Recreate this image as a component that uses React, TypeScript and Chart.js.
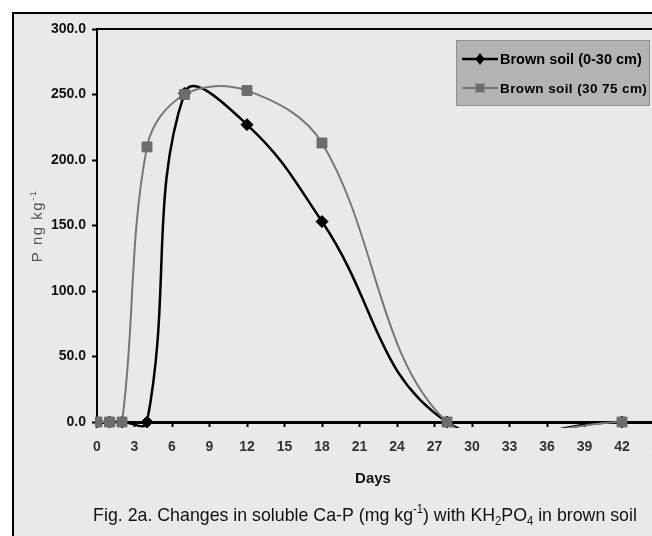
import React, { useEffect, useRef } from "react";
import { Chart, registerables } from "chart.js";

Chart.register(...registerables);

// ---- data ----
const days = [0, 1, 2, 4, 7, 12, 18, 28, 42];
const brownSoil0to30 = [0, 0, 0, 0, 251, 227, 153, 0, 0];
const brownSoil30to75 = [0, 0, 0, 210, 250, 253, 213, 0, 0];
const seriesLabels = ["Brown soil (0-30 cm)", "Brown soil (30 75 cm)"];
const xTitle = "Days";
const yTitleParts = [
  { t: "P ng kg", k: "n" },
  { t: "-1", k: "sup" },
];
const captionParts = [
  { t: "Fig. 2a. Changes in soluble Ca-P (mg kg", k: "n" },
  { t: "-1", k: "sup" },
  { t: ") with KH", k: "n" },
  { t: "2", k: "sub" },
  { t: "PO", k: "n" },
  { t: "4", k: "sub" },
  { t: " in brown soil", k: "n" },
];
const xMin = 0;
const xMax = 45;
const xStep = 3;
const yMin = 0;
const yMax = 300;
const yStep = 50;

const FAMILY = '"Liberation Sans", Arial, Helvetica, sans-serif';
const W = 700;
const H = 536;

type Part = { t: string; k: string };

function drawRich(
  ctx: CanvasRenderingContext2D,
  parts: Part[],
  size: number,
  weight: string,
  color: string,
  scaleX: number
) {
  const small = Math.round(size * 0.62);
  const widths = parts.map((p) => {
    ctx.font = `${weight} ${p.k === "n" ? size : small}px ${FAMILY}`;
    return ctx.measureText(p.t).width;
  });
  const total = widths.reduce((a, b) => a + b, 0);
  ctx.save();
  ctx.scale(scaleX, 1);
  let x = -total / 2;
  ctx.fillStyle = color;
  ctx.textBaseline = "alphabetic";
  ctx.textAlign = "left";
  parts.forEach((p, i) => {
    ctx.font = `${weight} ${p.k === "n" ? size : small}px ${FAMILY}`;
    const dy = p.k === "sup" ? -size * 0.42 : p.k === "sub" ? size * 0.2 : 0;
    ctx.fillText(p.t, x, dy);
    x += widths[i];
  });
  ctx.restore();
}

const framePlugin = {
  id: "frame",
  beforeDraw(chart: any) {
    const ctx: CanvasRenderingContext2D = chart.ctx;
    ctx.save();
    ctx.fillStyle = "#ffffff";
    ctx.fillRect(0, 0, chart.width, chart.height);
    ctx.fillStyle = "#e9e9e9";
    ctx.fillRect(13, 13, chart.width + 50, chart.height + 50);
    ctx.strokeStyle = "#000";
    ctx.lineWidth = 2;
    ctx.strokeRect(13, 13, chart.width + 50, chart.height + 50);
    ctx.restore();
  },
  afterDraw(chart: any) {
    const ctx: CanvasRenderingContext2D = chart.ctx;
    const a = chart.chartArea;
    ctx.save();
    // plot frame top / right
    ctx.strokeStyle = "#000";
    ctx.lineWidth = 2;
    ctx.beginPath();
    ctx.moveTo(a.left, a.top);
    ctx.lineTo(a.right, a.top);
    ctx.lineTo(a.right, a.bottom);
    ctx.stroke();

    // legend
    const lx = 456, ly = 40, lw = 193, lh = 65;
    ctx.fillStyle = "#b3b3b3";
    ctx.fillRect(lx, ly, lw, lh);
    ctx.strokeStyle = "#8e8e8e";
    ctx.lineWidth = 1;
    ctx.strokeRect(lx + 0.5, ly + 0.5, lw, lh);

    const ds = chart.data.datasets;
    const rows = [
      { y: 59, ds: ds[0], font: `bold 14.5px ${FAMILY}`, spacing: "0px" },
      { y: 88, ds: ds[1], font: `bold 13.5px ${FAMILY}`, spacing: "0.4px" },
    ];
    rows.forEach((r) => {
      ctx.strokeStyle = r.ds.borderColor;
      ctx.lineWidth = r.ds.borderWidth;
      ctx.beginPath();
      ctx.moveTo(462, r.y);
      ctx.lineTo(498, r.y);
      ctx.stroke();
      ctx.fillStyle = r.ds.backgroundColor;
      ctx.beginPath();
      if (r.ds.pointStyle === "rectRot") {
        ctx.moveTo(480, r.y - 6);
        ctx.lineTo(484.5, r.y);
        ctx.lineTo(480, r.y + 6);
        ctx.lineTo(475.5, r.y);
        ctx.closePath();
      } else {
        ctx.rect(475.5, r.y - 4.5, 9, 9);
      }
      ctx.fill();
      ctx.fillStyle = "#000";
      ctx.font = r.font;
      (ctx as any).letterSpacing = r.spacing;
      ctx.textAlign = "left";
      ctx.textBaseline = "middle";
      ctx.fillText(r.ds.label, 500, r.y + 1);
      (ctx as any).letterSpacing = "0px";
    });

    // y title
    ctx.save();
    ctx.translate(42, 226);
    ctx.rotate(-Math.PI / 2);
    (ctx as any).letterSpacing = "1.5px";
    drawRich(ctx, yTitleParts, 15, "normal", "#555", 1);
    (ctx as any).letterSpacing = "0px";
    ctx.restore();

    // x title
    ctx.fillStyle = "#111";
    ctx.font = `bold 15px ${FAMILY}`;
    ctx.textAlign = "center";
    ctx.textBaseline = "middle";
    ctx.fillText(xTitle, 373, 479);

    // caption
    ctx.save();
    ctx.translate(365, 521);
    drawRich(ctx, captionParts, 19, "normal", "#111", 0.935);
    ctx.restore();

    ctx.restore();
  },
};

export default function App() {
  const ref = useRef<HTMLCanvasElement>(null);
  useEffect(() => {
    document.body.style.margin = "0";
    const canvas = ref.current!;
    const chart = new Chart(canvas, {
      type: "line",
      data: {
        datasets: [
          {
            label: seriesLabels[0],
            data: days.map((d, i) => ({ x: d, y: brownSoil0to30[i] })),
            borderColor: "#000000",
            backgroundColor: "#000000",
            borderWidth: 2.5,
            pointStyle: "rectRot",
            pointRadius: 6,
            pointBorderWidth: 1,
            pointBackgroundColor: "#000000",
            pointBorderColor: "#000000",
            tension: 0.42,
            order: 1,
            clip: { left: 2, top: 4, right: 2, bottom: 6 },
          } as any,
          {
            label: seriesLabels[1],
            data: days.map((d, i) => ({ x: d, y: brownSoil30to75[i] })),
            borderColor: "#777777",
            backgroundColor: "#6c6c6c",
            borderWidth: 2,
            pointStyle: "rect",
            pointRadius: 7,
            pointBorderWidth: 1,
            pointBackgroundColor: "#6c6c6c",
            pointBorderColor: "#6c6c6c",
            tension: 0.36,
            order: 0,
            clip: { left: 2, top: 4, right: 2, bottom: 6 },
          } as any,
        ],
      },
      options: {
        responsive: false,
        animation: false,
        devicePixelRatio: 1,
        layout: { padding: { left: 0, top: 29, right: 40.5, bottom: 0 } },
        plugins: { legend: { display: false }, tooltip: { enabled: false } },
        elements: { line: { capBezierPoints: false } },
        scales: {
          x: {
            type: "linear",
            min: xMin,
            max: xMax,
            afterFit: (s: any) => {
              s.height = 114;
            },
            ticks: {
              stepSize: xStep,
              autoSkip: false,
              maxRotation: 0,
              padding: 12,
              color: "#333",
              font: { family: FAMILY, size: 14, weight: "bold" },
            },
            grid: {
              drawOnChartArea: false,
              drawTicks: true,
              tickLength: 5,
              tickColor: "#000",
              tickWidth: 2,
            },
            border: { display: true, color: "#000", width: 3 },
          },
          y: {
            type: "linear",
            min: yMin,
            max: yMax,
            afterFit: (s: any) => {
              s.width = 97;
            },
            ticks: {
              stepSize: yStep,
              padding: 6,
              color: "#111",
              font: { family: FAMILY, size: 14, weight: "bold" },
              callback: (v: any) => Number(v).toFixed(1),
            },
            grid: {
              drawOnChartArea: false,
              drawTicks: true,
              tickLength: 5,
              tickColor: "#000",
              tickWidth: 2,
            },
            border: { display: true, color: "#000", width: 2 },
          },
        },
      },
      plugins: [framePlugin],
    });
    return () => chart.destroy();
  }, []);

  return (
    <div
      style={{
        width: 652,
        height: 536,
        overflow: "hidden",
        position: "relative",
        background: "#fff",
      }}
    >
      <canvas
        ref={ref}
        width={W}
        height={H}
        style={{ width: W, height: H, display: "block" }}
      />
    </div>
  );
}
